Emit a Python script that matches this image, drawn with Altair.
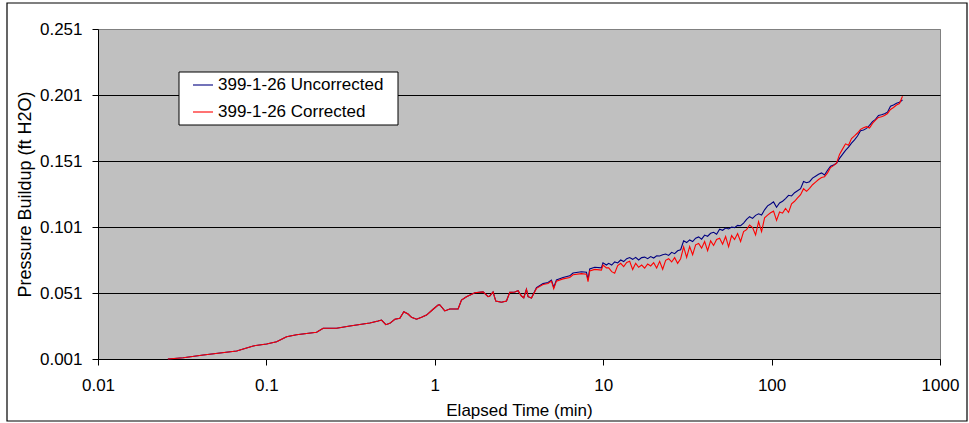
import altair as alt
import pandas as pd

# Early part of the test: both records are identical
time_early = [0.026, 0.0321, 0.0422, 0.0666, 0.0835, 0.1003, 0.115, 0.1318, 0.151, 0.1986,
              0.2173, 0.261, 0.313, 0.3754, 0.4114, 0.4608, 0.4828, 0.512, 0.5408, 0.579,
              0.620, 0.6546, 0.694, 0.7273, 0.779, 0.834, 0.893, 0.977, 1.046, 1.07,
              1.146, 1.227, 1.375, 1.44, 1.542, 1.728, 1.935, 2.072, 2.12, 2.218,
              2.301, 2.488, 2.665, 2.787, 2.984, 3.122, 3.27, 3.375, 3.501, 3.579, 3.749]
buildup_early = [0.0010, 0.0020, 0.0040, 0.0071, 0.0109, 0.0124, 0.0141, 0.0179, 0.0194, 0.0212,
                 0.0243, 0.0243, 0.0260, 0.0275, 0.0283, 0.0298, 0.0305, 0.0270, 0.0280, 0.0311,
                 0.0318, 0.0368, 0.0351, 0.0326, 0.0311, 0.0326, 0.0343, 0.0387, 0.0419, 0.0421,
                 0.0374, 0.0389, 0.0389, 0.0457, 0.0482, 0.0512, 0.0518, 0.0482, 0.0487, 0.0518,
                 0.0449, 0.0440, 0.0449, 0.0515, 0.0518, 0.0527, 0.0487, 0.0474, 0.0538, 0.0482, 0.0472]

# Later part: uncorrected and corrected records diverge
time_late = [4.015, 4.393, 4.703, 4.928, 5.085, 5.276, 5.773, 6.327, 6.619, 7.425,
             7.951, 8.127, 8.317, 8.905, 9.757, 9.97, 10.45,
             10.78, 11.23, 11.70, 12.19, 12.70, 13.23, 13.79, 14.36, 14.96, 15.59,
             16.24, 16.92, 17.63, 18.37, 19.14, 19.94, 20.77, 21.64, 22.55, 23.49,
             24.47, 25.50, 26.56, 27.67, 28.83, 30.04, 31.30, 32.61, 33.97, 35.39,
             36.87, 38.41, 40.02, 41.69, 43.44, 45.25, 47.15, 49.12, 51.18, 53.32,
             55.55, 57.87, 60.29, 62.82, 65.45, 68.18, 71.04, 74.01, 77.11, 80.33,
             83.69, 87.19, 90.84, 94.64, 98.60, 102.7, 107.0, 111.5, 116.2, 121.0,
             126.1, 131.4, 136.9, 142.6, 148.6, 154.8, 161.3, 168.0, 175.0, 182.4,
             190.0, 198.0, 206.2, 214.9, 223.9, 233.2, 243.0, 253.1, 263.7, 274.8,
             286.3, 298.2, 310.7, 323.7, 337.3, 351.4, 366.1, 381.4, 397.3, 414.0,
             431.3, 449.4, 468.2, 487.8, 508.2, 529.4, 551.6, 574.7, 598.7]
uncorrected_late = [0.0550, 0.0581, 0.0590, 0.0608, 0.0552, 0.0609, 0.0627, 0.0640, 0.0661, 0.0671,
                    0.0667, 0.0612, 0.0692, 0.0705, 0.0700, 0.0738, 0.0722,
                    0.0735, 0.0722, 0.0745, 0.0738, 0.0760, 0.0748, 0.0770, 0.0779, 0.0765, 0.0780,
                    0.0760, 0.0778, 0.0782, 0.0770, 0.0786, 0.0775, 0.0792, 0.0790, 0.0800, 0.0805,
                    0.0795, 0.0818, 0.0808, 0.0830, 0.0838, 0.0905, 0.0892, 0.0912, 0.0900, 0.0925,
                    0.0935, 0.0918, 0.0949, 0.0940, 0.0962, 0.0970, 0.0955, 0.0993, 0.0985, 0.1002,
                    0.0995, 0.1010, 0.1005, 0.1022, 0.1020, 0.1040, 0.1068, 0.1088, 0.1075, 0.1098,
                    0.1110, 0.1100, 0.1140, 0.1170, 0.1184, 0.1200, 0.1160, 0.1192, 0.1205, 0.1225,
                    0.1250, 0.1245, 0.1270, 0.1285, 0.1300, 0.1355, 0.1345, 0.1353, 0.1380, 0.1395,
                    0.1410, 0.1420, 0.1404, 0.1440, 0.1470, 0.1480, 0.1493, 0.1530, 0.1560, 0.1590,
                    0.1615, 0.1645, 0.1670, 0.1699, 0.1740, 0.1745, 0.1757, 0.1780, 0.1808, 0.1825,
                    0.1855, 0.1860, 0.1868, 0.1880, 0.1925, 0.1935, 0.1947, 0.1955, 0.1972]
corrected_late = [0.0545, 0.0574, 0.0582, 0.0600, 0.0543, 0.0600, 0.0617, 0.0628, 0.0648, 0.0657,
                  0.0652, 0.0596, 0.0677, 0.0689, 0.0683, 0.0722, 0.0700,
                  0.0700, 0.0672, 0.0660, 0.0718, 0.0735, 0.0710, 0.0742, 0.0750, 0.0688, 0.0735,
                  0.0705, 0.0722, 0.0698, 0.0730, 0.0715, 0.0740, 0.0700, 0.0750, 0.0690, 0.0758,
                  0.0770, 0.0745, 0.0778, 0.0735, 0.0770, 0.0860, 0.0780, 0.0862, 0.0800, 0.0875,
                  0.0885, 0.0850, 0.0900, 0.0830, 0.0905, 0.0870, 0.0915, 0.0925, 0.0880, 0.0938,
                  0.0860, 0.0945, 0.0915, 0.0960, 0.0900, 0.0975, 0.0990, 0.1025, 0.1005, 0.0950,
                  0.1050, 0.0975, 0.1080, 0.1100, 0.1118, 0.1130, 0.1060, 0.1124, 0.1115, 0.1150,
                  0.1120, 0.1185, 0.1205, 0.1230, 0.1255, 0.1300, 0.1280, 0.1303, 0.1330, 0.1350,
                  0.1370, 0.1385, 0.1391, 0.1420, 0.1460, 0.1475, 0.1493, 0.1560, 0.1600, 0.1640,
                  0.1630, 0.1680, 0.1700, 0.1722, 0.1750, 0.1762, 0.1770, 0.1760, 0.1795, 0.1820,
                  0.1840, 0.1845, 0.1855, 0.1870, 0.1900, 0.1915, 0.1934, 0.1945, 0.2000]

series_names = ["399-1-26 Uncorrected", "399-1-26 Corrected"]
series_colors = ["#000080", "#FF0000"]
x_ticks = [0.01, 0.1, 1, 10, 100, 1000]
y_ticks = [0.001, 0.051, 0.101, 0.151, 0.201, 0.251]

times = time_early + time_late
df = pd.concat([
    pd.DataFrame({"time": times, "value": buildup_early + uncorrected_late, "series": series_names[0]}),
    pd.DataFrame({"time": times, "value": buildup_early + corrected_late, "series": series_names[1]}),
], ignore_index=True)

FONT = "Liberation Sans"

x_enc = alt.X(
    "time:Q",
    scale=alt.Scale(type="log", domain=[0.01, 1000], nice=False),
    axis=alt.Axis(values=x_ticks, format="~g", title="Elapsed Time (min)", grid=False,
                  tickSize=6, labelPadding=12, labelFontSize=17, titleFontSize=17,
                  titleFontWeight="normal", titleY=51, titleBaseline="middle",
                  labelFlush=False, labelOverlap=False),
)
# Top gridline coincides with the plot frame, so it takes the frame's grey
grid_color = {"condition": {"test": "datum.value > 0.25", "value": "#808080"}, "value": "black"}
y_enc = alt.Y(
    "value:Q",
    scale=alt.Scale(domain=[0.001, 0.251], nice=False, zero=False),
    axis=alt.Axis(values=y_ticks, format=".3f", title="Pressure Buildup (ft H2O)", grid=True,
                  gridColor=grid_color, gridWidth=1, tickSize=6, labelPadding=10,
                  labelFontSize=17, titleFontSize=18, titleFontWeight="normal",
                  titleX=-73, titleY=165, titleAngle=270, titleBaseline="middle",
                  titleAlign="center", labelFlush=False, labelOverlap=False),
)

one = pd.DataFrame({"k": [0]})

# Outer chart frame
frame = alt.Chart(one).mark_rect(fillOpacity=0, stroke="black", strokeWidth=1.2).encode(
    x=alt.value(-91), x2=alt.value(869), y=alt.value(-26), y2=alt.value(392)
)

line_unc = alt.Chart(df).transform_filter(alt.datum.series == series_names[0]).mark_line(
    color=series_colors[0], strokeWidth=1.1
).encode(x=x_enc, y=y_enc)
line_cor = alt.Chart(df).transform_filter(alt.datum.series == series_names[1]).mark_line(
    color=series_colors[1], strokeWidth=1.1
).encode(x=x_enc, y=y_enc)

# Legend box inside the plot area
legend_box = alt.Chart(one).mark_rect(fill="white", stroke="black", strokeWidth=1).encode(
    x=alt.value(81), x2=alt.value(300), y=alt.value(43), y2=alt.value(96)
)
legend_rows = []
for i, (name, col) in enumerate(zip(series_names, series_colors)):
    yy = 56 + 27 * i
    legend_rows.append(
        alt.Chart(one).mark_rule(color=col, strokeWidth=1.1).encode(
            x=alt.value(95), x2=alt.value(115), y=alt.value(yy)
        )
    )
    legend_rows.append(
        alt.Chart(pd.DataFrame({"label": [name]})).mark_text(
            align="left", baseline="middle", fontSize=17, font=FONT, color="black"
        ).encode(x=alt.value(120), y=alt.value(yy), text="label:N")
    )

chart = alt.layer(frame, line_unc, line_cor, legend_box, *legend_rows).properties(
    width=842, height=330,
    padding={"left": 98, "top": 29, "right": 29, "bottom": 64},
    autosize="none", background="white",
).configure_view(
    fill="#C0C0C0", stroke="#808080", strokeWidth=1
).configure_axis(
    domainColor="black", tickColor="black", labelColor="black", titleColor="black",
    labelFont=FONT, titleFont=FONT, domainWidth=1, tickWidth=1
)

chart.save("out.html", embed_options={"renderer": "svg", "actions": False})
